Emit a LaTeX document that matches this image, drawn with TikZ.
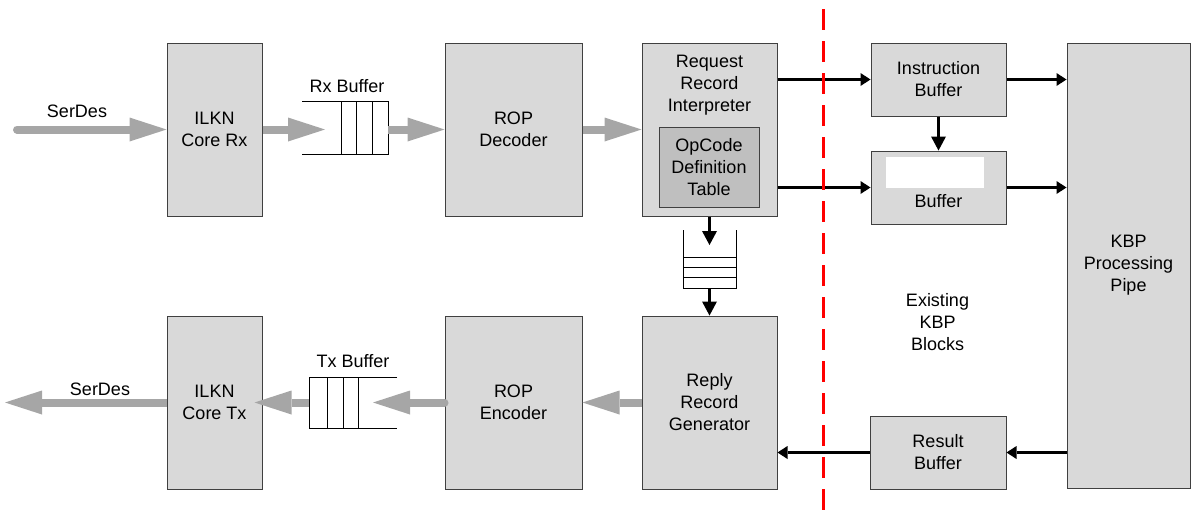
\documentclass[tikz,border=0pt]{standalone}
\usepackage{fontspec}
\setmainfont{Liberation Sans}
\usetikzlibrary{arrows.meta}
\definecolor{boxfill}{HTML}{D9D9D9}
\definecolor{tablefill}{HTML}{BFBFBF}
\definecolor{flowgray}{HTML}{A6A6A6}
\definecolor{edgegray}{HTML}{404040}
\newcommand\diagfont{\fontsize{18}{22}\selectfont}
\tikzset{
  block/.style={draw=edgegray, fill=boxfill, line width=1pt, inner sep=0pt,
                align=center, font=\diagfont},
  caption/.style={inner sep=0pt, align=center, font=\diagfont},
  flow/.style={draw=flowgray, line width=8pt,
               -{Triangle[length=37pt,width=24pt,line width=0pt]}},
  signal/.style={draw=black, line width=2.5pt,
                 -{Triangle[length=10pt,width=13pt,line width=0pt]}},
  drop/.style={draw=black, line width=2.5pt,
               -{Triangle[length=14pt,width=15pt,line width=0pt]}},
  queue/.style={draw=black, line width=1pt},
  boundary/.style={draw=red, line width=3pt, dash pattern=on 21pt off 11pt}
}
\begin{document}
\begin{tikzpicture}[x=1pt,y=-1pt]
\useasboundingbox (0,0) rectangle (1192,517);

% receive path blocks
\node[block, minimum width=95pt, minimum height=173pt] (ilknrx) at (214.5,129.5) {ILKN\\Core Rx};
\node[block, minimum width=137pt, minimum height=173pt] (ropdec) at (513.5,129.5) {ROP\\Decoder};
\node[block, minimum width=135pt, minimum height=173pt] (rri) at (709.5,129.5) {};
\node[caption] (rrilabel) at (709.5,85) {Request\\Record\\Interpreter};
\node[block, fill=tablefill, minimum width=100pt, minimum height=80pt] (opcode) at (709,167) {OpCode\\Definition\\Table};

% existing KBP blocks
\node[block, minimum width=135pt, minimum height=73pt] (ibuf) at (938.5,79.5) {Instruction\\Buffer};
\node[block, minimum width=135pt, minimum height=73pt] (dbuf) at (938.5,187.5) {};
\node[fill=white, inner sep=0pt, minimum width=98pt, minimum height=31pt] (blank) at (935,172.5) {};
\node[caption] (dbuflabel) at (938.5,201) {Buffer};
\node[block, minimum width=123pt, minimum height=445pt] (kbp) at (1128.5,265.5) {KBP\\Processing\\Pipe};
\node[block, minimum width=136pt, minimum height=73pt] (result) at (938,452.5) {Result\\Buffer};
\node[caption] (existing) at (937.5,322) {Existing\\KBP\\Blocks};

% transmit path blocks
\node[block, minimum width=135pt, minimum height=173pt] (rrg) at (709.5,402.5) {Reply\\Record\\Generator};
\node[block, minimum width=137pt, minimum height=173pt] (ropenc) at (513.5,402.5) {ROP\\Encoder};
\node[block, minimum width=95pt, minimum height=173pt] (ilkntx) at (214.5,402.5) {ILKN\\Core Tx};

% labels
\node[caption] (serdesrxlabel) at (77,111) {SerDes};
\node[caption] (rxlabel) at (347,86) {Rx Buffer};
\node[caption] (txlabel) at (353,361) {Tx Buffer};
\node[caption] (serdestxlabel) at (100,389) {SerDes};

% Rx buffer
\draw[queue] (302,101) -- (388,101) -- (388,154) -- (302,154);
\foreach \x in {341,356,372} \draw[queue] (\x,101) -- (\x,154);
\coordinate (rxin) at (325,129.5);
\coordinate (rxout) at (388,129.5);

% Tx buffer
\draw[queue] (397,377) -- (309,377) -- (309,428) -- (397,428);
\foreach \x in {327,343,358} \draw[queue] (\x,377) -- (\x,428);
\coordinate (txin) at (373,402.5);
\coordinate (txout) at (309,402.5);

% request-to-reply queue
\draw[queue] (683,230) -- (683,288) -- (736,288) -- (736,230);
\foreach \y in {257,267,277} \draw[queue] (683,\y) -- (736,\y);
\coordinate (qin) at (709.5,245);
\coordinate (qout) at (709.5,288);

% SerDes ends
\coordinate (serdesrx) at (17,129.5);
\coordinate (serdestx) at (5,402.5);

% wide data-path arrows
\draw[flow, line cap=round] (serdesrx) -- (ilknrx.west);
\draw[flow] (ilknrx.east) -- (rxin);
\draw[flow] (rxout) -- (ropdec.west);
\draw[flow] (ropdec.east) -- (rri.west);
\draw[flow] (rrg.west) -- (ropenc.east);
\draw[flow, line cap=round] (ropenc.west) -- (txin);
\draw[flow] (txout) -- ([xshift=-8pt]ilkntx.east);
\draw[flow] (ilkntx.west) -- (serdestx);

% control arrows
\draw[drop] (rri.south) -- (qin);
\draw[drop] (qout) -- (rrg.north);
\draw[signal] (rri.east |- ibuf.west) -- (ibuf.west);
\draw[signal] (rri.east |- dbuf.west) -- (dbuf.west);
\draw[drop] (ibuf.south) -- (dbuf.north);
\draw[signal] (ibuf.east) -- (ibuf.east -| kbp.west);
\draw[signal] (dbuf.east) -- (dbuf.east -| kbp.west);
\draw[signal] (kbp.west |- result.east) -- (result.east);
\draw[signal] (result.west) -- (result.west -| rrg.east);

% boundary of the existing KBP blocks
\coordinate (bndtop) at (823,9);
\coordinate (bndbot) at (823,517);
\draw[boundary] (bndtop) -- (bndbot);
\end{tikzpicture}
\end{document}
